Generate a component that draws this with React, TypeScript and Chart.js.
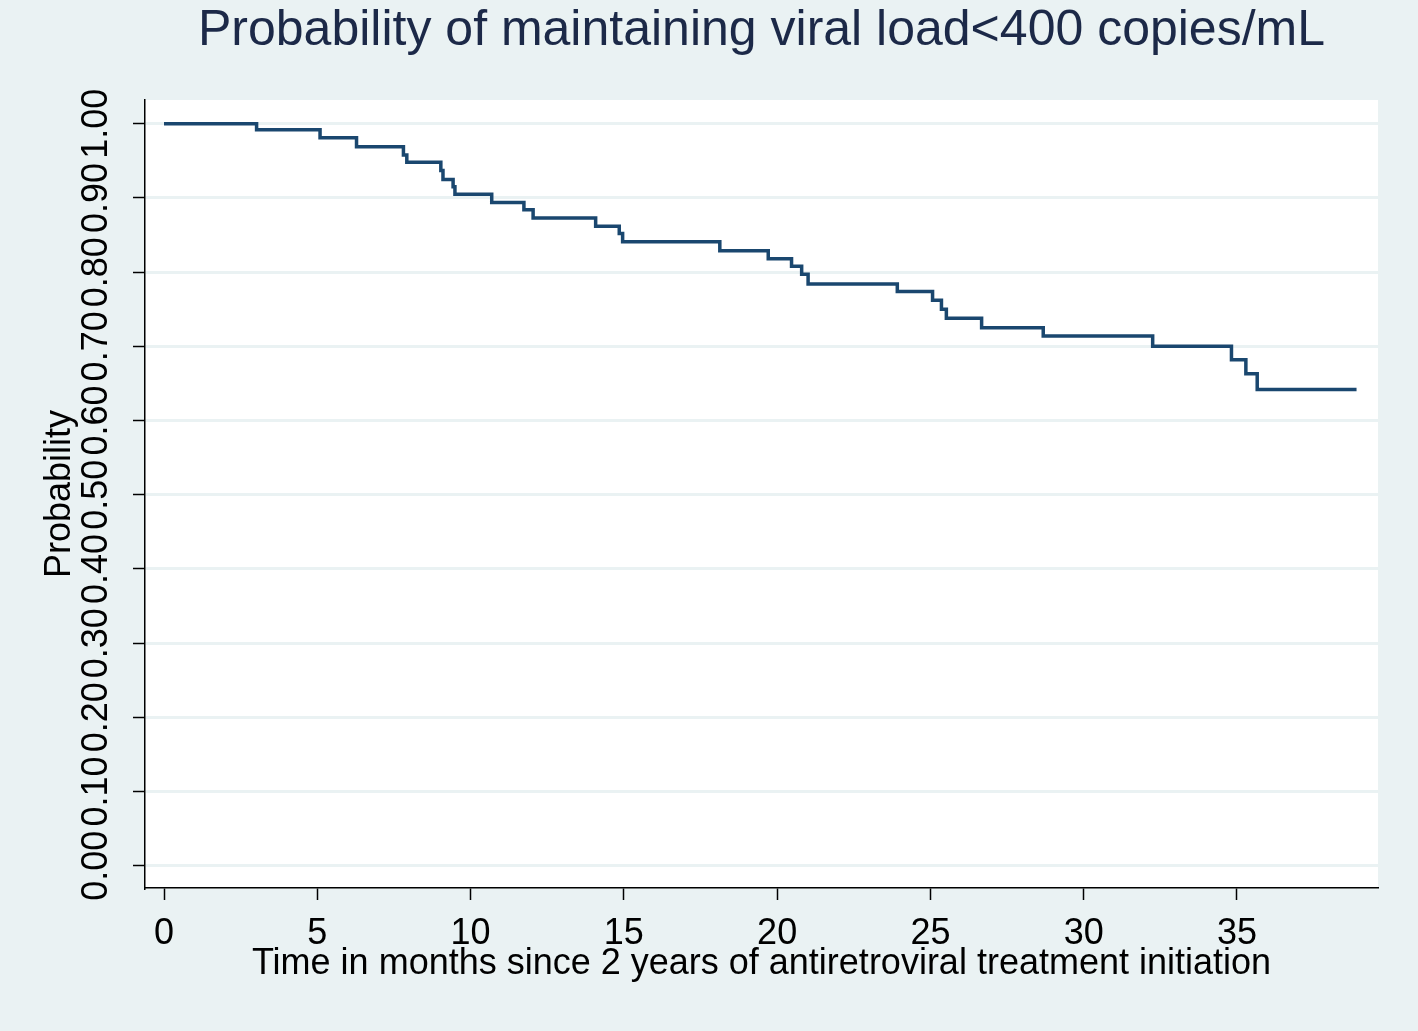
import React, { useEffect, useRef } from "react";
import { Chart, registerables } from "chart.js";

Chart.register(...registerables);

// Kaplan-Meier step points: time (months) and survival probability after each drop
const times = [0, 3.02, 5.09, 6.28, 7.81, 7.92, 9.03, 9.1, 9.43, 9.49, 10.69, 11.74, 12.04, 14.08, 14.85, 14.96, 18.13, 19.71, 20.47, 20.8, 21.01, 23.92, 25.07, 25.36, 25.52, 26.67, 28.68, 32.25, 34.82, 35.29, 35.66, 38.9];
const survival = [1.0, 0.992, 0.981, 0.969, 0.958, 0.948, 0.937, 0.925, 0.915, 0.905, 0.894, 0.884, 0.873, 0.862, 0.852, 0.841, 0.829, 0.818, 0.808, 0.797, 0.784, 0.774, 0.762, 0.75, 0.738, 0.725, 0.714, 0.7, 0.682, 0.663, 0.642, 0.642];

const xTicks = [0, 5, 10, 15, 20, 25, 30, 35];
const yTicks = [0, 0.1, 0.2, 0.3, 0.4, 0.5, 0.6, 0.7, 0.8, 0.9, 1.0];

const titleText = "Probability of maintaining viral load<400 copies/mL";
const xTitle = "Time in months since 2 years of antiretroviral treatment initiation";
const yTitle = "Probability";

const FONT = "'Liberation Sans', Arial, sans-serif";
const BG = "#EAF2F3";

const bgPlugin = {
  id: "bgPlugin",
  beforeDraw(chart: any) {
    const { ctx, chartArea } = chart;
    ctx.save();
    ctx.fillStyle = BG;
    ctx.fillRect(0, 0, chart.width, chart.height);
    ctx.fillStyle = "#FFFFFF";
    ctx.fillRect(chartArea.left, chartArea.top, chartArea.right - chartArea.left, chartArea.bottom - chartArea.top);
    ctx.restore();
  },
};

export default function App() {
  const ref = useRef<HTMLCanvasElement | null>(null);

  useEffect(() => {
    document.body.style.margin = "0";
    const canvas = ref.current;
    if (!canvas) return;
    const chart = new Chart(canvas, {
      type: "line",
      data: {
        datasets: [
          {
            data: times.map((t, i) => ({ x: t, y: survival[i] })),
            borderColor: "#1A476F",
            borderWidth: 3.5,
            pointRadius: 0,
            stepped: true,
            fill: false,
          },
        ],
      },
      options: {
        responsive: false,
        animation: false,
        events: [],
        layout: { padding: { left: 0, right: 40, top: 0, bottom: 0 } },
        plugins: {
          legend: { display: false },
          tooltip: { enabled: false },
          title: {
            display: true,
            fullSize: false,
            text: titleText,
            color: "#1C2948",
            font: { family: FONT, size: 50, weight: "normal", lineHeight: 1 },
            padding: { top: 6, bottom: 44 },
          },
        },
        scales: {
          x: {
            type: "linear",
            min: -0.62,
            max: 39.6,
            afterBuildTicks: (s: any) => {
              s.ticks = xTicks.map((v) => ({ value: v }));
            },
            afterFit: (s: any) => {
              s.height = 143;
            },
            grid: {
              drawOnChartArea: false,
              drawTicks: true,
              tickLength: 12,
              tickColor: "#000",
              tickWidth: 1.5,
            },
            border: { display: true, color: "#000", width: 1.5 },
            ticks: {
              autoSkip: false,
              maxRotation: 0,
              minRotation: 0,
              padding: 12,
              color: "#000",
              font: { family: FONT, size: 36 },
              callback: (v: any) => String(v),
            },
            title: {
              display: true,
              text: xTitle,
              color: "#000",
              font: { family: FONT, size: 36, lineHeight: 1 },
              padding: { top: 0, bottom: 49 },
            },
          },
          y: {
            type: "linear",
            min: -0.03,
            max: 1.032,
            afterBuildTicks: (s: any) => {
              s.ticks = yTicks.map((v) => ({ value: v }));
            },
            afterFit: (s: any) => {
              s.width = 145;
            },
            grid: {
              color: BG,
              lineWidth: 3,
              drawTicks: true,
              tickLength: 12,
              tickColor: "#000",
              tickWidth: 1.5,
            },
            border: { display: true, color: "#000", width: 1.5 },
            ticks: {
              autoSkip: false,
              minRotation: 90,
              maxRotation: 90,
              crossAlign: "center",
              padding: 1,
              color: "#000",
              font: { family: FONT, size: 36 },
              callback: (v: any) => Number(v).toFixed(2),
            },
            title: {
              display: true,
              text: yTitle,
              color: "#000",
              font: { family: FONT, size: 36, lineHeight: 1 },
              padding: { top: 42, bottom: 0 },
            },
          },
        },
      },
      plugins: [bgPlugin],
    } as any);
    return () => chart.destroy();
  }, []);

  return <canvas ref={ref} width={1418} height={1031} style={{ display: "block" }} />;
}
